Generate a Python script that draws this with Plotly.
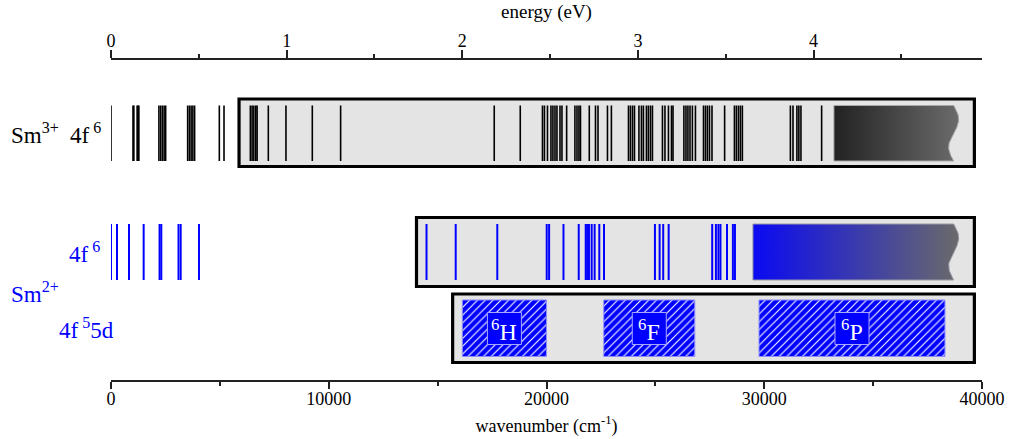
import numpy as np
import plotly.graph_objects as go

# ---------------- data (cm^-1) ----------------
EV_TO_CM = 8065.54
x_max = 40000

sm3_levels = [0, 1010, 1050, 1200, 1240, 1280, 2200, 2280, 2360, 2440, 2510,
              3520, 3600, 3680, 3760, 3840, 4975, 5190,
              6400, 6480, 6560, 6650, 6710, 7225, 8035, 9245, 10545,
              17600, 18795, 19815, 19905, 20045, 20205, 20295, 20390, 20480,
              20620, 20710, 20925, 21305, 21400, 21490, 21560, 21965, 22250,
              22365, 22800, 22980, 23765, 23855, 23950, 24040, 24245, 24360,
              24450, 24590, 24680, 24775, 24865, 25325, 25440, 25600, 25740,
              25810, 26310, 26405, 26495, 26590, 26700, 26840, 27210, 27300,
              27390, 27485, 27600, 28180, 28630, 28720, 28815, 28905, 28995,
              31200, 31320, 31500, 31590, 31685, 32635]
sm3_box_start = 5880
sm3_cont_start = 33200

sm2_levels = [0, 275, 827, 1500, 2230, 2310, 3100, 3200, 4040,
              14490, 15830, 17740, 20010, 20120, 20780, 21480, 21800, 21870,
              21950, 22075, 22210, 22425, 22640, 24980, 25195, 25360, 25610,
              27610, 27780, 27895, 27990, 28290, 28560, 28655]
sm2_box_start = 14030
sm2_cont_start = 29480

d_box_start = 15690
d_terms = ["H", "F", "P"]
d_lo = [16135, 22630, 29760]
d_hi = [20000, 26810, 38300]

box_end = 39650
cont_end = 38700

wn_ticks = [0, 10000, 20000, 30000, 40000]
ev_ticks = [0, 1, 2, 3, 4]

# ---------------- style ----------------
FONT = "Liberation Serif"
BLUE = "#0000ff"
BOXFILL = "#e4e4e4"
PX = x_max / 871.0          # data units per pixel
ROW1 = (105.5, 161.0)
ROW2 = (224.0, 280.0)
ROW3 = (300.0, 356.5)
BOX1 = (99.0, 166.5)
BOX2 = (217.5, 286.5)
BOX3 = (294.0, 362.5)
LBL = (312.5, 344.5)

fig = go.Figure()

def add_box(x0, yy):
    fig.add_shape(type="rect", x0=x0, x1=box_end, y0=yy[0], y1=yy[1],
                  xref="x", yref="y", layer="below",
                  line=dict(color="black", width=3.2), fillcolor=BOXFILL)

add_box(sm3_box_start, BOX1)
add_box(sm2_box_start, BOX2)
add_box(d_box_start, BOX3)

def level_trace(levels, yy, color, width):
    xs, ys = [], []
    for e in levels:
        xs += [e, e, None]
        ys += [yy[0], yy[1], None]
    return go.Scatter(x=xs, y=ys, mode="lines", hoverinfo="skip",
                      line=dict(color=color, width=width), showlegend=False)

fig.add_trace(level_trace(sm3_levels, ROW1, "black", 1.6))
fig.add_trace(level_trace(sm2_levels, ROW2, BLUE, 2.0))

def continuum(x0, yy, c0, c1, edge):
    t = np.linspace(0, 1, 40)
    xr = cont_end + 5 * PX * np.sin(2 * np.pi * t)
    yr = yy[0] + (yy[1] - yy[0]) * t
    xs = [x0] + list(xr) + [x0, x0]
    ys = [yy[0]] + list(yr) + [yy[1], yy[0]]
    return go.Scatter(x=xs, y=ys, mode="lines", fill="toself",
                      fillgradient=dict(type="horizontal",
                                        colorscale=[[0, c0], [1, c1]]),
                      line=dict(color=edge, width=1), hoverinfo="skip",
                      showlegend=False)

fig.add_trace(continuum(sm3_cont_start, ROW1, "#222222", "#6b6b6b", "#a8a8a8"))
fig.add_trace(continuum(sm2_cont_start, ROW2, "#0a0af2", "#6a6a6a", "#9a9aa8"))

for term, lo, hi in zip(d_terms, d_lo, d_hi):
    fig.add_trace(go.Scatter(
        x=[lo, hi, hi, lo, lo], y=[ROW3[0], ROW3[0], ROW3[1], ROW3[1], ROW3[0]],
        mode="lines", fill="toself",
        fillpattern=dict(shape="/", bgcolor=BLUE, fgcolor="white",
                         size=5.5, solidity=0.2, fillmode="replace"),
        line=dict(color="#8c8cff", width=1), hoverinfo="skip", showlegend=False))
    c = (lo + hi) / 2
    fig.add_shape(type="rect", x0=c - 17 * PX, x1=c + 17 * PX, y0=LBL[0], y1=LBL[1],
                  xref="x", yref="y", layer="above",
                  line=dict(color="#a8a8ff", width=1), fillcolor=BLUE)
    fig.add_annotation(x=c, y=(LBL[0] + LBL[1]) / 2 + 1, xref="x", yref="y",
                       text=f"<sup>6</sup>{term}", showarrow=False,
                       font=dict(family=FONT, size=24, color="white"),
                       xanchor="center", yanchor="middle")

# invisible trace for the top energy axis
fig.add_trace(go.Scatter(x=[0, x_max / EV_TO_CM], y=[200, 200], xaxis="x2",
                         mode="markers", marker=dict(opacity=0),
                         hoverinfo="skip", showlegend=False))

def px2paper(px):
    return (px - 111) / 871.0

labels = [
    ("Sm<sup>3+</sup>", 9, 133, "black"),
    ("4f<sup> 6</sup>", 68, 133, "black"),
    ("4f<sup> 6</sup>", 67, 252.5, BLUE),
    ("Sm<sup>2+</sup>", 9, 292, BLUE),
    ("4f<sup> 5</sup>5d", 57, 328.5, BLUE),
]
for txt, px, y, col in labels:
    fig.add_annotation(x=px2paper(px), y=y, xref="paper", yref="y", text=txt,
                       showarrow=False, xanchor="left", yanchor="middle",
                       font=dict(family=FONT, size=23, color=col))

axis_common = dict(showgrid=False, zeroline=False, showline=True,
                   linecolor="#222222", linewidth=1.5, ticks="outside",
                   tickcolor="#222222", tickwidth=1.5, automargin=False,
                   tickfont=dict(family=FONT, size=18, color="black"),
                   fixedrange=True)

fig.update_layout(
    width=1010, height=439,
    margin=dict(l=111, r=28, t=60, b=59),
    paper_bgcolor="white", plot_bgcolor="white",
    showlegend=False,
    xaxis=dict(range=[0, x_max], tickvals=wn_ticks, ticklen=7, tickformat="d",
               minor=dict(dtick=5000, tick0=0, ticklen=4, ticks="outside",
                          tickcolor="#222222", tickwidth=1.5),
               title=dict(text="wavenumber (cm<sup>-1</sup>)", standoff=11,
                          font=dict(family=FONT, size=18, color="black")),
               ticklabelstandoff=-5,
               **axis_common),
    xaxis2=dict(range=[0, x_max / EV_TO_CM], overlaying="x", side="top",
                anchor="y", tickvals=ev_ticks, ticklen=8,
                minor=dict(dtick=0.5, tick0=0, ticklen=4, ticks="outside",
                           tickcolor="#222222", tickwidth=1.5),
                title=dict(text="energy (eV)", standoff=7,
                           font=dict(family=FONT, size=19, color="black")),
                ticklabelstandoff=-4,
                **axis_common),
    yaxis=dict(range=[380, 60], visible=False, fixedrange=True),
)

fig.write_html("out.html")
